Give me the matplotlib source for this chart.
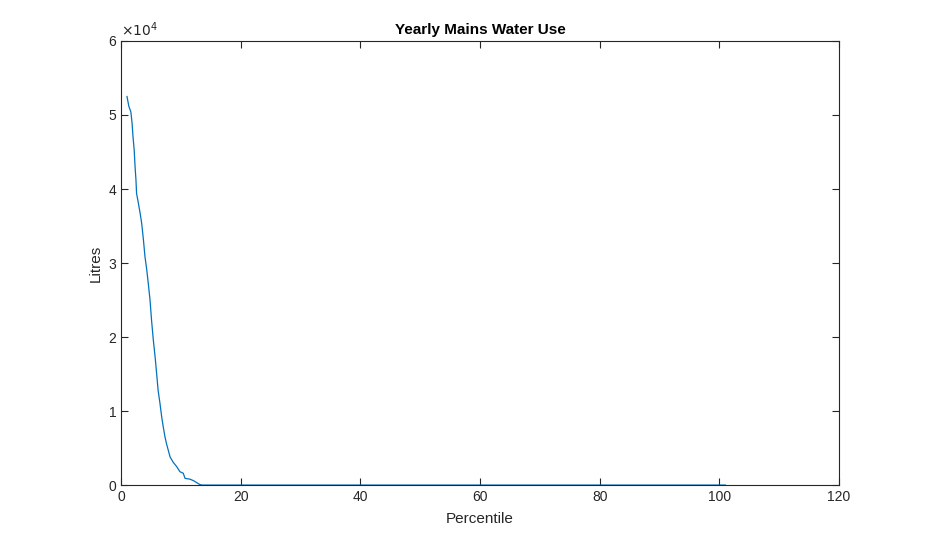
import matplotlib.pyplot as plt
import numpy as np

plt.rcParams['font.family'] = ['Liberation Sans', 'DejaVu Sans']

# percentile / litres (descending curve)
percentile = [1.0, 1.3, 1.65, 1.85, 2.0, 2.2, 2.35, 2.5, 2.6, 2.9, 3.2, 3.45,
              3.75, 4.0, 4.3, 4.55, 4.85, 5.1, 5.4, 5.7, 5.95, 6.2, 6.5, 6.8,
              7.05, 7.35, 7.6, 7.9, 8.2, 8.7, 9.3, 9.85, 10.4, 10.7, 11.5,
              12.1, 12.6, 13.1, 13.5, 101.0]
litres = [52500, 51200, 50400, 48900, 47100, 45300, 43000, 41200, 39400, 38100,
          36700, 35400, 33100, 30900, 29100, 27300, 25000, 22300, 19600, 17300,
          15100, 12800, 11100, 9200, 7900, 6500, 5600, 4700, 3800, 3100, 2500,
          1800, 1600, 900, 800, 600, 350, 100, 0, 0]

fig = plt.figure(figsize=(9.28, 5.45), dpi=100)
ax = fig.add_axes([0.1304, 0.110, 0.7737, 0.8148])

ax.plot(percentile, litres, color='#0072BD', linewidth=0.9)

ax.set_xlim(0, 120)
ax.set_ylim(0, 60000)
ax.set_xticks(np.arange(0, 121, 20))
ax.set_yticks(np.arange(0, 60001, 10000))
ax.set_yticklabels([str(v) for v in range(7)])
ax.tick_params(direction='in', top=True, right=True, labelsize=10, colors='#262626',
               length=5, width=0.8)
for s in ax.spines.values():
    s.set_color('#262626')
    s.set_linewidth(0.8)

ax.text(0.0, 1.005, r'$\times10^4$', transform=ax.transAxes, fontsize=10,
        color='#262626', va='bottom', ha='left')

ax.set_title('Yearly Mains Water Use', fontsize=11, fontweight='bold', pad=5)
ax.set_xlabel('Percentile', fontsize=11, color='#262626', labelpad=6)
ax.set_ylabel('Litres', fontsize=11, color='#262626')

fig.savefig('out.png', dpi=100)
